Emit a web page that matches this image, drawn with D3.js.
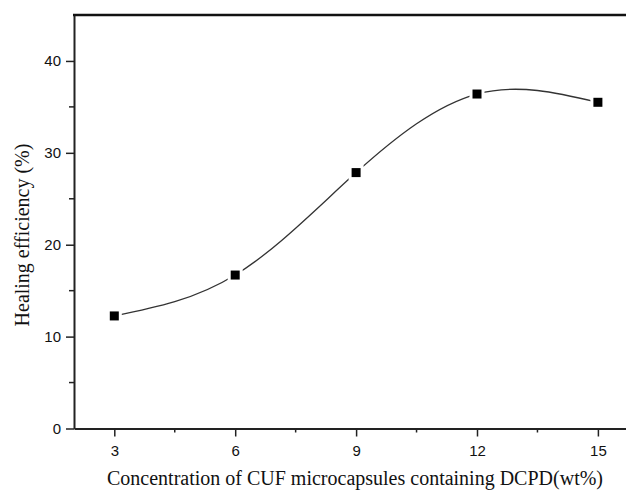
<!DOCTYPE html>
<html>
<head>
<meta charset="utf-8">
<script src="https://cdn.jsdelivr.net/npm/d3@7"></script>
<style>
  body { margin: 0; background: #fff; }
  svg { display: block; }
  .tick-label { font-family: "Liberation Sans", Arial, sans-serif; font-size: 15px; fill: #111; }
  .axis-title { font-family: "Liberation Serif", "Times New Roman", serif; font-size: 20px; fill: #111; }
</style>
</head>
<body>
<div id="chart"></div>
<script>
// Concentration (wt%) vs healing efficiency (%)
const concentrations = [3, 6, 9, 12, 15];
const efficiency = [12.25, 16.7, 27.85, 36.4, 35.5];

const xMajorTicks = [3, 6, 9, 12, 15];
const xMinorTicks = [4.5, 7.5, 10.5, 13.5];
const yMajorTicks = [0, 10, 20, 30, 40];
const yMinorTicks = [5, 15, 25, 35];

const xTitle = "Concentration of CUF microcapsules containing DCPD(wt%)";
const yTitle = "Healing efficiency (%)";

const W = 626, H = 492;
const margin = { top: 15, left: 74, bottom: 63 };

const svg = d3.select("#chart").append("svg")
    .attr("width", W)
    .attr("height", H);

// scales - the right border of the frame falls outside the picture
const x = d3.scaleLinear().domain([2, 16]).range([margin.left, margin.left + 14 * 40.3]);
const y = d3.scaleLinear().domain([0, 45]).range([H - margin.bottom - 0.5, margin.top]);

const data = concentrations.map((c, i) => ({ c: c, v: efficiency[i] }));

// fitted curve
const line = d3.line()
    .x(d => x(d.c))
    .y(d => y(d.v))
    .curve(d3.curveNatural);

svg.append("path")
    .datum(data)
    .attr("d", line)
    .attr("fill", "none")
    .attr("stroke", "#333")
    .attr("stroke-width", 1.3);

// markers: white halo makes the small gap in the curve
const ms = 9;
svg.selectAll(".halo").data(data).enter()
    .append("rect")
    .attr("class", "halo")
    .attr("x", d => x(d.c) - ms / 2 - 3)
    .attr("y", d => y(d.v) - ms / 2 - 3)
    .attr("width", ms + 6)
    .attr("height", ms + 6)
    .attr("fill", "#fff");

svg.selectAll(".marker").data(data).enter()
    .append("rect")
    .attr("class", "marker")
    .attr("x", d => x(d.c) - ms / 2)
    .attr("y", d => y(d.v) - ms / 2)
    .attr("width", ms)
    .attr("height", ms)
    .attr("fill", "#000");

// axes
const xAxis = svg.append("g")
    .attr("transform", `translate(0, ${y(0)})`)
    .call(d3.axisBottom(x).tickValues(xMajorTicks).tickSizeInner(8).tickSizeOuter(0).tickPadding(9));

xAxis.append("g").selectAll("line").data(xMinorTicks).enter()
    .append("line")
    .attr("x1", d => x(d)).attr("x2", d => x(d))
    .attr("y1", 0).attr("y2", 4)
    .attr("stroke", "#222").attr("stroke-width", 1.5);

const yAxis = svg.append("g")
    .attr("transform", `translate(${x(2)}, 0)`)
    .call(d3.axisLeft(y).tickValues(yMajorTicks).tickSizeInner(8).tickSizeOuter(0).tickPadding(5));

yAxis.append("g").selectAll("line").data(yMinorTicks).enter()
    .append("line")
    .attr("x1", 0).attr("x2", -5)
    .attr("y1", d => y(d)).attr("y2", d => y(d))
    .attr("stroke", "#222").attr("stroke-width", 1.5);

[xAxis, yAxis].forEach(g => {
    g.select(".domain").attr("stroke", "#222").attr("stroke-width", 2);
    g.selectAll(".tick line").attr("stroke", "#222").attr("stroke-width", 1.5);
    g.selectAll(".tick text").attr("class", "tick-label").attr("font-size", null).attr("font-family", null);
});

// top border of the frame
svg.append("line")
    .attr("x1", x(2) - 1).attr("x2", x(16))
    .attr("y1", y(45)).attr("y2", y(45))
    .attr("stroke", "#111")
    .attr("stroke-width", 2.5);

// axis titles
svg.append("text")
    .attr("class", "axis-title")
    .attr("text-anchor", "middle")
    .attr("x", 355)
    .attr("y", 485)
    .text(xTitle);

svg.append("text")
    .attr("class", "axis-title")
    .attr("text-anchor", "middle")
    .attr("transform", "translate(29, 235) rotate(-90)")
    .text(yTitle);
</script>
</body>
</html>
